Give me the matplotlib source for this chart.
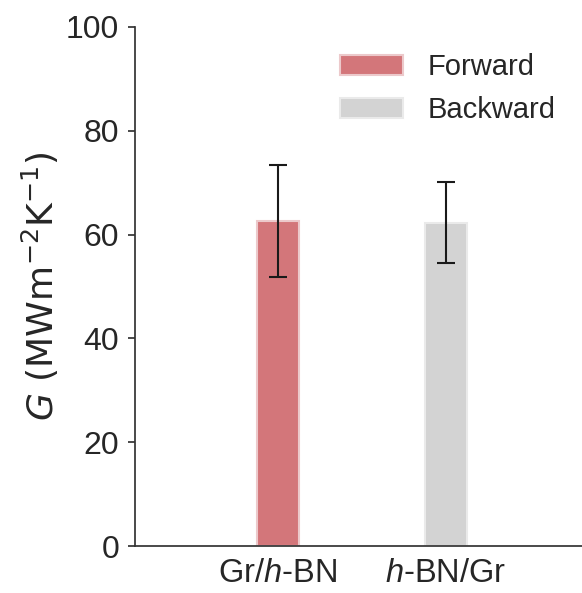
import matplotlib
matplotlib.use("Agg")
import matplotlib.pyplot as plt
import numpy as np

categories = ["Gr/$h$-BN", "$h$-BN/Gr"]
series = ["Forward", "Backward"]
values = [62.6, 62.3]
errors = [10.75, 7.85]
colors = ["#d3767a", "#d3d3d3"]
edge_colors = ["#ecc9cb", "#eaeaea"]

plt.rcParams['font.family'] = ['Liberation Sans', 'DejaVu Sans']
plt.rcParams['mathtext.fontset'] = 'custom'
plt.rcParams['mathtext.rm'] = 'Liberation Sans'
plt.rcParams['mathtext.it'] = 'Liberation Sans:italic'
plt.rcParams['mathtext.bf'] = 'Liberation Sans:bold'

text_color = "#262626"
fig = plt.figure(figsize=(5.82, 5.93), dpi=100)
ax = fig.add_axes([135/582, 1-546/593, 447/582, (546-27)/593])

x = np.arange(len(categories))
for i in range(len(categories)):
    ax.bar(x[i], values[i], width=0.25, color=colors[i], edgecolor=edge_colors[i],
           linewidth=1.5, label=series[i], zorder=2)
    ax.errorbar(x[i], values[i], yerr=errors[i], color="#1a1a1a", elinewidth=1.5,
                capsize=6.2, capthick=1.5, zorder=3)

ax.set_xlim(-0.85, 1.81)
ax.set_ylim(0, 100)
ax.set_yticks([0, 20, 40, 60, 80, 100])
ax.set_xticks(x)
ax.set_xticklabels(categories)
ax.tick_params(axis='x', length=0, pad=9, labelsize=23.5, labelcolor=text_color)
ax.tick_params(axis='y', length=5, width=1.25, color="#333333", pad=6.5, labelsize=23, labelcolor=text_color)
for s in ['top', 'right']:
    ax.spines[s].set_visible(False)
for s in ['left', 'bottom']:
    ax.spines[s].set_linewidth(1.25)
    ax.spines[s].set_color("#333333")

ax.set_ylabel(r"$G\ (\mathrm{MWm^{-2}K^{-1}})$", fontsize=26, color=text_color, labelpad=3,
              math_fontfamily='dejavusans')

leg = ax.legend(loc='upper right', frameon=False, fontsize=21, handlelength=2.16,
                handleheight=0.7, handletextpad=0.86, labelspacing=0.52)
for t in leg.get_texts():
    t.set_color(text_color)

fig.savefig("out.png", dpi=100)
